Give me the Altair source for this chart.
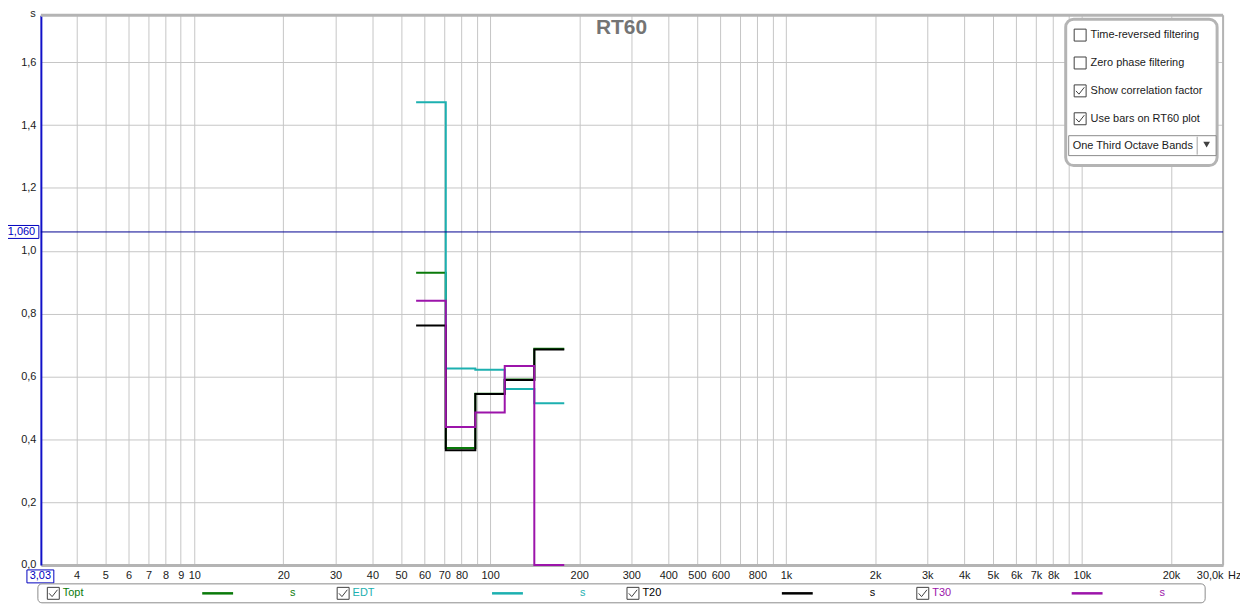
import json
import altair as alt
import pandas as pd

# ---------------- data ----------------
band_centres_hz = [63, 80, 100, 125, 160]          # one-third octave bands
band_edges_hz = [56.2, 70.8, 89.1, 112, 141, 178]   # band limits
series_names = ["Topt", "EDT", "T20", "T30"]
series_colors = ["#0a7a0a", "#1cb0b0", "#000000", "#9c14aa"]
topt = [0.930, 0.372, 0.545, 0.590, 0.688]
edt = [1.473, 0.625, 0.621, 0.560, 0.515]
t20 = [0.762, 0.365, 0.544, 0.589, 0.686]
t30 = [0.841, 0.439, 0.485, 0.633, 0.000]

reference_rt60 = 1.06
x_min, x_max = 3.03, 30000
y_min, y_max = 0.0, 1.75

xtick_values = [4, 5, 6, 7, 8, 9, 10, 20, 30, 40, 50, 60, 70, 80, 90,
                100, 200, 300, 400, 500, 600, 700, 800, 900,
                1000, 2000, 3000, 4000, 5000, 6000, 7000, 8000, 9000,
                10000, 20000, 30000]
xtick_labels = ["4", "5", "6", "7", "8", "9", "10", "20", "30", "40", "50", "60", "70", "80", "",
                "100", "200", "300", "400", "500", "600", "", "800", "",
                "1k", "2k", "3k", "4k", "5k", "6k", "7k", "8k", "",
                "10k", "20k", "30,0k"]
ytick_values = [0.0, 0.2, 0.4, 0.6, 0.8, 1.0, 1.2, 1.4, 1.6]

option_labels = ["Time-reversed filtering", "Zero phase filtering",
                 "Show correlation factor", "Use bars on RT60 plot"]
option_checked = [False, False, True, True]
band_mode = "One Third Octave Bands"

FONT = "Liberation Sans"
W, H = 1187, 552

# ---------------- tables ----------------
rows = []
for name, vals in zip(series_names, [topt, edt, t20, t30]):
    ys = vals + [vals[-1]]
    for f, v in zip(band_edges_hz, ys):
        rows.append({"series": name, "f": f, "v": v})
df_lines = pd.DataFrame(rows)

label_expr = "{}[indexof({}, datum.value)]".format(json.dumps(xtick_labels), json.dumps(xtick_values))

x_enc = alt.X("f:Q",
              scale=alt.Scale(type="log", domain=[x_min, x_max], nice=False),
              axis=alt.Axis(values=xtick_values, labelExpr=label_expr, title=None,
                            grid=True, gridColor="#c6c6c6", gridWidth=1, ticks=False,
                            domainColor="#b4b4b4", domainWidth=3, labelOverlap=False,
                            labelFlush=True, labelFont=FONT, labelFontSize=11,
                            labelColor="#1a1a1a", labelPadding=5))
y_enc = alt.Y("v:Q",
              scale=alt.Scale(domain=[y_min, y_max], nice=False, zero=False),
              axis=alt.Axis(values=ytick_values,
                            labelExpr="replace(format(datum.value, '.1f'), '.', ',')",
                            title=None, grid=True, gridColor="#c6c6c6", gridWidth=1,
                            ticks=False, domainColor="#1010c8", domainWidth=2,
                            labelFont=FONT, labelFontSize=11, labelColor="#1a1a1a",
                            labelPadding=5))

one = pd.DataFrame({"a": [0]})
layers = []

# frame (top / right)
layers.append(alt.Chart(one).mark_rule(color="#b4b4b4", strokeWidth=3).encode(
    x=alt.value(0), x2=alt.value(W), y=alt.value(0)))
layers.append(alt.Chart(one).mark_rule(color="#b4b4b4", strokeWidth=2).encode(
    x=alt.value(W), y=alt.value(0), y2=alt.value(H)))

# series step lines
for name, col in zip(series_names, series_colors):
    layers.append(
        alt.Chart(df_lines).transform_filter(alt.datum.series == name)
        .mark_line(interpolate="step-after", color=col, strokeWidth=2)
        .encode(x=x_enc, y=y_enc)
    )

# reference horizontal line
layers.append(alt.Chart(one).mark_rule(color="#000090", strokeWidth=1).encode(
    y=alt.datum(reference_rt60)))
# cursor value boxes
layers.append(alt.Chart(one).mark_rect(
    fill="white", stroke="#0000c0", strokeWidth=1, yOffset=-6.5, y2Offset=6.5).encode(
    x=alt.value(-37), x2=alt.value(-2), y=alt.datum(reference_rt60), y2=alt.datum(reference_rt60)))
layers.append(alt.Chart(one).mark_text(
    text="1,060", color="#0000c0", font=FONT, fontSize=11, align="center", baseline="middle").encode(
    x=alt.value(-19.5), y=alt.datum(reference_rt60)))
layers.append(alt.Chart(one).mark_rect(
    fill="white", stroke="#0000c0", strokeWidth=1).encode(
    x=alt.value(-14), x2=alt.value(13), y=alt.value(557), y2=alt.value(570)))
layers.append(alt.Chart(one).mark_text(
    text="3,03", color="#0000c0", font=FONT, fontSize=11, align="center", baseline="middle").encode(
    x=alt.value(-0.5), y=alt.value(563.5)))

# title and unit labels
layers.append(alt.Chart(one).mark_text(
    text="RT60", color="#747474", font=FONT, fontSize=21, fontWeight="bold",
    align="center", baseline="middle").encode(x=alt.value(583), y=alt.value(13)))
layers.append(alt.Chart(one).mark_text(
    text="s", color="#1a1a1a", font=FONT, fontSize=11, align="center", baseline="alphabetic").encode(
    x=alt.value(-8), y=alt.value(2)))
layers.append(alt.Chart(one).mark_text(
    text="Hz", color="#1a1a1a", font=FONT, fontSize=11, align="left", baseline="middle").encode(
    x=alt.value(1192), y=alt.value(563)))

# ---------------- options panel (top right) ----------------
layers.append(alt.Chart(one).mark_rect(
    fill="white", stroke="#b4b4b4", strokeWidth=3, cornerRadius=8).encode(
    x=alt.value(1029), x2=alt.value(1181), y=alt.value(4), y2=alt.value(151)))
opt_df = pd.DataFrame({
    "t": option_labels,
    "checked": option_checked,
    "y": [20 + 28 * i for i in range(len(option_labels))],
    "bx": [1043.5] * len(option_labels),
    "tx": [1054] * len(option_labels),
})
layers.append(alt.Chart(opt_df).mark_point(
    shape="square", size=144, filled=False, stroke="#404040", strokeWidth=1, opacity=1).encode(
    x=alt.X("bx:Q", scale=None), y=alt.Y("y:Q", scale=None)))
layers.append(alt.Chart(opt_df).transform_filter(alt.datum.checked).mark_point(
    shape="M-0.7,0 L-0.2,0.55 L0.7,-0.6", size=144, filled=False, stroke="#404040",
    strokeWidth=1, opacity=1).encode(
    x=alt.X("bx:Q", scale=None), y=alt.Y("y:Q", scale=None)))
layers.append(alt.Chart(opt_df).mark_text(
    font=FONT, fontSize=11, color="#1a1a1a", align="left", baseline="middle").encode(
    x=alt.X("tx:Q", scale=None), y=alt.Y("y:Q", scale=None), text="t:N"))
# dropdown
layers.append(alt.Chart(one).mark_rect(
    fill="white", stroke="#8a8a8a", strokeWidth=1).encode(
    x=alt.value(1032), x2=alt.value(1180), y=alt.value(121), y2=alt.value(141)))
layers.append(alt.Chart(one).mark_rule(color="#a0a0a0", strokeWidth=1).encode(
    x=alt.value(1161), y=alt.value(122), y2=alt.value(140)))
layers.append(alt.Chart(one).mark_point(
    shape="triangle-down", size=45, filled=True, color="#404040", opacity=1).encode(
    x=alt.value(1170.5), y=alt.value(130)))
layers.append(alt.Chart(one).mark_text(
    text=band_mode, font=FONT, fontSize=11, color="#1a1a1a", align="left", baseline="middle").encode(
    x=alt.value(1036), y=alt.value(131)))

# ---------------- bottom legend bar ----------------
layers.append(alt.Chart(one).mark_rect(
    fill="white", stroke="#8a8a8a", strokeWidth=1, cornerRadius=4).encode(
    x=alt.value(-3), x2=alt.value(1169), y=alt.value(571), y2=alt.value(590)))
step = 291
leg_df = pd.DataFrame({
    "t": series_names,
    "c": series_colors,
    "bx": [12.5 + step * i for i in range(4)],
    "tx": [22 + step * i for i in range(4)],
    "lx": [162 + step * i for i in range(4)],
    "lx2": [193 + step * i for i in range(4)],
    "sx": [253 + step * i for i in range(4)],
    "s": ["s"] * 4,
    "y": [580.5] * 4,
})
layers.append(alt.Chart(leg_df).mark_point(
    shape="square", size=144, filled=False, stroke="#404040", strokeWidth=1, opacity=1).encode(
    x=alt.X("bx:Q", scale=None), y=alt.Y("y:Q", scale=None)))
layers.append(alt.Chart(leg_df).mark_point(
    shape="M-0.7,0 L-0.2,0.55 L0.7,-0.6", size=144, filled=False, stroke="#404040",
    strokeWidth=1, opacity=1).encode(
    x=alt.X("bx:Q", scale=None), y=alt.Y("y:Q", scale=None)))
layers.append(alt.Chart(leg_df).mark_text(
    font=FONT, fontSize=11, align="left", baseline="middle").encode(
    x=alt.X("tx:Q", scale=None), y=alt.Y("y:Q", scale=None), text="t:N",
    color=alt.Color("c:N", scale=None)))
layers.append(alt.Chart(leg_df).mark_rule(strokeWidth=2.5).encode(
    x=alt.X("lx:Q", scale=None), x2="lx2:Q", y=alt.Y("y:Q", scale=None),
    color=alt.Color("c:N", scale=None)))
layers.append(alt.Chart(leg_df).mark_text(
    font=FONT, fontSize=11, align="center", baseline="middle").encode(
    x=alt.X("sx:Q", scale=None), y=alt.Y("y:Q", scale=None), text="s:N",
    color=alt.Color("c:N", scale=None)))

chart = alt.layer(*layers).properties(
    width=W, height=H,
    padding={"left": 33, "top": 6, "right": 17, "bottom": 39},
    autosize=alt.AutoSizeParams(type="none"),
    background="white",
).configure_view(stroke=None)

chart.save("out.html", embed_options={"renderer": "svg", "actions": False})
